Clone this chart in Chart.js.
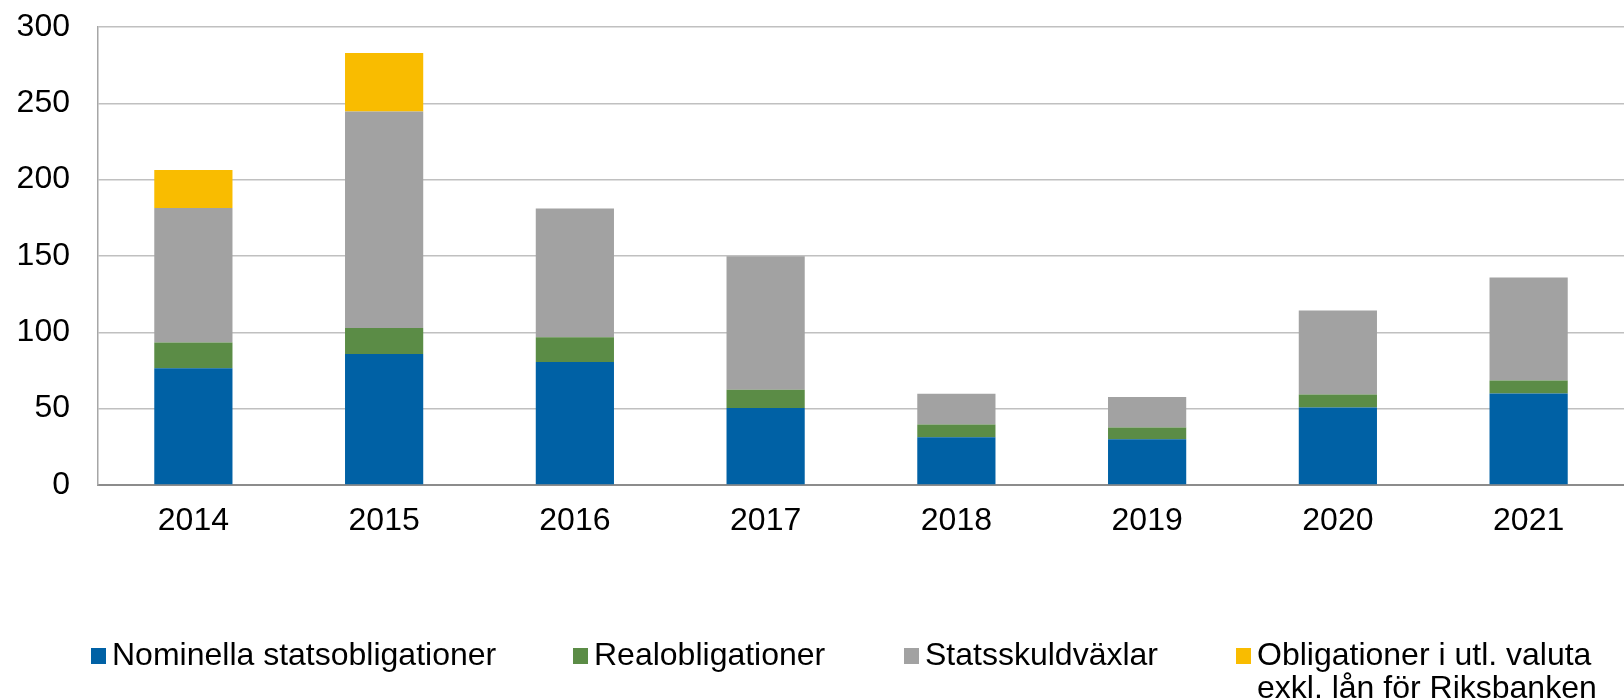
<!DOCTYPE html>
<html>
<head>
<meta charset="utf-8">
<script src="https://cdn.jsdelivr.net/npm/chart.js@4"></script>
<style>
    html, body { margin: 0; padding: 0; background: #fff; }
    #wrap { position: relative; width: 1624px; height: 700px; }
    #legend {
        position: absolute; left: 0; top: 0; width: 1624px; height: 700px;
        font-family: "Liberation Sans", Arial, sans-serif; font-size: 32px; color: #000;
        pointer-events: none;
    }
    .lg-item { position: absolute; top: 638px; line-height: 33px; white-space: nowrap; }
    .lg-box { position: absolute; left: 0; top: 10px; width: 15px; height: 16px; }
    .lg-text { position: absolute; left: 21px; top: 0; }
</style>
</head>
<body>
<div id="wrap">
    <canvas id="chart" width="1624" height="700"></canvas>
    <div id="legend"></div>
</div>
<script>
// Data
const years = ["2014", "2015", "2016", "2017", "2018", "2019", "2020", "2021"];
const nominella = [76.4, 85.8, 80.5, 50.4, 31.2, 29.9, 50.8, 60.0];
const real = [17.0, 17.0, 16.2, 12.0, 8.5, 7.8, 8.5, 8.5];
const vaxlar = [88.1, 141.8, 84.4, 87.5, 20.1, 19.9, 55.0, 67.4];
const utlValuta = [24.9, 38.4, 0, 0, 0, 0, 0, 0];

const seriesLabels = [
    ["Nominella statsobligationer"],
    ["Realobligationer"],
    ["Statsskuldväxlar"],
    ["Obligationer i utl. valuta", "exkl. lån för Riksbanken"]
];
const seriesColors = ["#0061a5", "#5b8c46", "#a2a2a2", "#f9bc00"];
const yTicks = [0, 50, 100, 150, 200, 250, 300];

const font = { family: "'Liberation Sans', Arial, sans-serif", size: 32 };

const datasets = [nominella, real, vaxlar, utlValuta].map((vals, i) => ({
    label: seriesLabels[i].join(" "),
    data: vals,
    backgroundColor: seriesColors[i],
    borderWidth: 0,
    barPercentage: 0.41,
    categoryPercentage: 1.0
}));

new Chart(document.getElementById("chart"), {
    type: "bar",
    data: { labels: years, datasets: datasets },
    options: {
        responsive: false,
        animation: false,
        layout: { padding: { top: 27, right: 0, bottom: 0, left: 0 } },
        plugins: {
            legend: { display: false },
            tooltip: { enabled: false }
        },
        scales: {
            x: {
                stacked: true,
                grid: { display: false, drawTicks: false },
                border: { display: true, color: "#8c8c8c", width: 2 },
                ticks: { color: "#000", font: font, padding: 17 },
                afterFit: scale => { scale.height = 215; }
            },
            y: {
                stacked: true,
                min: 0,
                max: 300,
                afterBuildTicks: scale => { scale.ticks = yTicks.map(v => ({ value: v })); },
                grid: { color: "#c0c0c0", lineWidth: 1.5, drawTicks: false },
                border: { display: true, color: "#a6a6a6", width: 1.5 },
                ticks: { color: "#000", font: font, padding: 28 },
                afterFit: scale => {
                    scale.width = 98;
                    scale.paddingTop = 0;
                    scale.paddingBottom = 0;
                }
            }
        }
    }
});

// HTML legend below the chart
const legendX = [91, 573, 904, 1236];
const legend = document.getElementById("legend");
seriesLabels.forEach((lines, i) => {
    const item = document.createElement("div");
    item.className = "lg-item";
    item.style.left = legendX[i] + "px";
    item.innerHTML = `<div class="lg-box" style="background:${seriesColors[i]}"></div>` +
        `<div class="lg-text">${lines.join("<br>")}</div>`;
    legend.appendChild(item);
});
</script>
</body>
</html>
